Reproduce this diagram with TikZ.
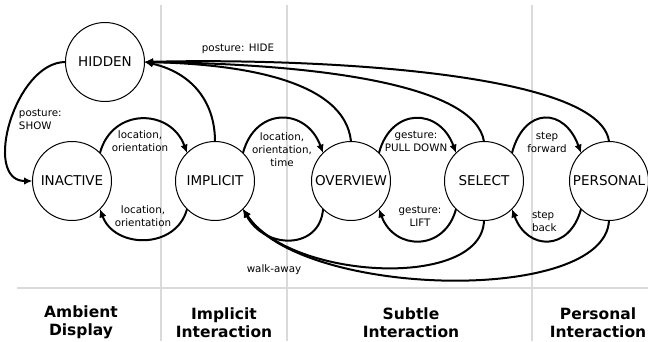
\documentclass[tikz,border=0pt]{standalone}
\usepackage{fontspec}
\setmainfont{DejaVu Sans}
\usetikzlibrary{arrows.meta}
\definecolor{divgray}{RGB}{218,218,218}
\begin{document}
\begin{tikzpicture}[x=1pt,y=-1pt,inner sep=0pt,outer sep=0pt,
state/.style={draw,circle,minimum size=79pt,line width=1pt,font=\fontsize{13.5}{16}\selectfont},
trans/.style={line width=2pt,-{Latex[length=8.5pt,width=7.5pt]}},
lbl/.style={align=center,font=\fontsize{10.3}{13}\selectfont},
zone/.style={align=center,font=\fontsize{15.5}{18.5}\selectfont\bfseries},
divider/.style={divgray,line width=2pt}]
\useasboundingbox (0,0) rectangle (648,341);
% zones
\draw[divider] (161,5) -- (161,341);
\draw[divider] (287,5) -- (287,341);
\draw[divider] (532,5) -- (532,341);
\draw[divider] (17,288) -- (648,288);
\draw (81,322.5) node[zone] (ambient) {Ambient\\Display};
\draw (224,322.5) node[zone] (implzone) {Implicit\\Interaction};
\draw (411,322.5) node[zone] (subtle) {Subtle\\Interaction};
\draw (598,322.5) node[zone] (perszone) {Personal\\Interaction};
% states
\draw (105,62) node[state] (hidden) {HIDDEN};
\draw (72,181) node[state] (inactive) {INACTIVE};
\draw (215,181) node[state] (implicit) {IMPLICIT};
\draw (351,181) node[state] (overview) {OVERVIEW};
\draw (484,181) node[state] (select) {SELECT};
\draw (609,181) node[state] (personal) {PERSONAL};
% transitions
\draw[trans] (hidden.west) to[out=180,in=180,looseness=1.05] (inactive.west);
\draw (19,119.5) node[lbl,anchor=west,align=left] (showlbl) {posture:\\SHOW};
\draw[trans] (inactive.45) to[out=75,in=110,looseness=1.4] (implicit.135);
\draw (140,141) node[lbl] (loclbla) {location,\\orientation};
\draw[trans] (implicit.225) to[out=-105,in=-70,looseness=1.25] (inactive.-45);
\draw (143,216) node[lbl] (loclblb) {location,\\orientation};
\draw[trans] (implicit.45) to[out=75,in=110,looseness=1.55] (overview.135);
\draw (282,150) node[lbl] (loclblc) {location,\\orientation,\\time};
\draw[trans] (overview.45) to[out=75,in=110,looseness=1.6] (select.135);
\draw (416,141) node[lbl] (pulllbl) {gesture:\\PULL DOWN};
\draw[trans] (select.225) to[out=-105,in=-70,looseness=1.48] (overview.-45);
\draw (420,216) node[lbl] (liftlbl) {gesture:\\LIFT};
\draw[trans] (select.45) to[out=75,in=110,looseness=1.8] (personal.135);
\draw (547,142) node[lbl] (fwdlbl) {step\\forward};
\draw[trans] (personal.225) to[out=-105,in=-70,looseness=1.65] (select.-45);
\draw (532,221.5) node[lbl,anchor=west,align=left] (backlbl) {step\\back};
% posture: HIDE
\draw[trans] (implicit.north) .. controls (215,100) and (190,72) .. (hidden.east);
\draw[trans] (overview.north) .. controls (345,80) and (240,64) .. (hidden.east);
\draw[trans] (select.north) .. controls (475,85) and (320,64) .. (hidden.east);
\draw[trans] (personal.north) .. controls (600,70) and (300,58) .. (hidden.east);
\draw (238,49) node[lbl] (hidelbl) {posture: HIDE};
% walk-away
\draw[trans] (overview.225) .. controls (320,250) and (265,250) .. (implicit.-45);
\draw[trans] (select.south) .. controls (482,290) and (290,280) .. (implicit.-45);
\draw[trans] (personal.south) .. controls (605,305) and (300,298) .. (implicit.-45);
\draw (274,270) node[lbl] (walklbl) {walk-away};
\end{tikzpicture}
\end{document}
